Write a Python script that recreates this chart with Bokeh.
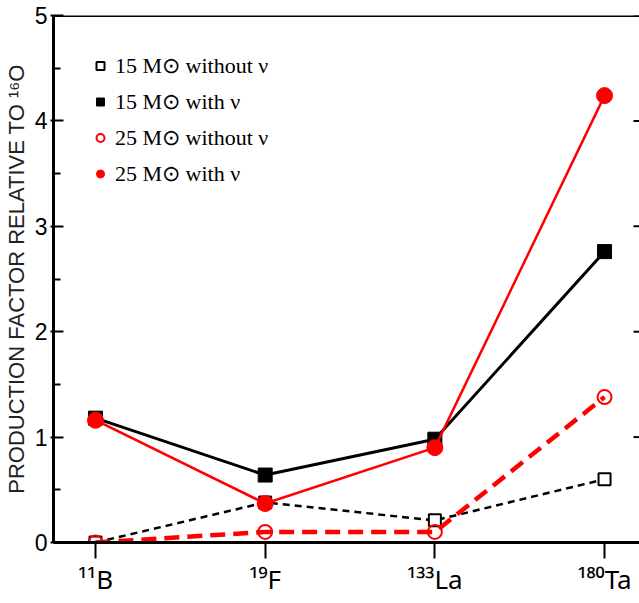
from bokeh.plotting import figure
from bokeh.models import (Range1d, FixedTicker, Legend, LegendItem, Span)
from bokeh.embed import file_html
from bokeh.resources import INLINE

# ---- data ----
isotopes = ["¹¹B", "¹⁹F", "¹³³La", "¹⁸⁰Ta"]
m15_without = [0.0, 0.38, 0.21, 0.60]
m15_with = [1.18, 0.64, 0.98, 2.76]
m25_without = [0.0, 0.10, 0.10, 1.38]
m25_with = [1.16, 0.37, 0.90, 4.24]
y_ticks = [0, 1, 2, 3, 4, 5]
series_labels = ["15 M⊙ without ν", "15 M⊙ with ν", "25 M⊙ without ν", "25 M⊙ with ν"]

x = list(range(1, len(isotopes) + 1))

p = figure(width=639, height=603, output_backend="svg", toolbar_location=None,
           x_range=Range1d(0.7525, 4.206), y_range=Range1d(0, 5),
           min_border_left=53, min_border_right=0, min_border_top=15, min_border_bottom=61)
p.outline_line_color = None
p.xgrid.visible = False
p.ygrid.visible = False
p.background_fill_color = "white"
p.border_fill_color = "white"

# x axis
xa = p.xaxis[0]
xa.ticker = FixedTicker(ticks=x)
xa.major_label_overrides = {i: lab for i, lab in zip(x, isotopes)}
xa.axis_line_width = 3
xa.major_tick_in = 0
xa.major_tick_out = 16
xa.major_tick_line_width = 2
xa.minor_tick_line_color = None
xa.major_label_text_font = "Noto Sans"
xa.major_label_text_font_size = "26px"
xa.major_label_text_color = "black"
xa.major_label_standoff = 2

# y axis
ya = p.yaxis[0]
ya.ticker = FixedTicker(ticks=y_ticks, minor_ticks=[0.5, 1.5, 2.5, 3.5, 4.5])
ya.axis_line_width = 3
ya.major_tick_in = 10
ya.major_tick_out = 3
ya.major_tick_line_width = 2
ya.minor_tick_in = 7
ya.minor_tick_out = 0
ya.minor_tick_line_width = 2
ya.minor_tick_line_color = "black"
ya.major_label_text_font = "Liberation Sans"
ya.major_label_text_font_size = "23px"
ya.major_label_text_color = "black"
ya.major_label_standoff = 3
ya.axis_label = "PRODUCTION FACTOR RELATIVE TO ¹⁶O"
ya.axis_label_text_font = "Liberation Sans"
ya.axis_label_text_font_size = "22px"
ya.axis_label_text_font_style = "normal"
ya.axis_label_text_color = "#222222"
ya.axis_label_standoff = 3

# top frame line and right-side inward ticks
p.add_layout(Span(location=p.y_range.end, dimension="width", line_color="black", line_width=3))
p.scatter([p.x_range.end] * len(y_ticks), y_ticks, marker="dash", size=12,
          line_color="black", line_width=2)

# series
p.line(x, m15_without, line_color="black", line_width=2.5, line_dash="7 5")
r1 = p.scatter(x, m15_without, marker="square", size=12, fill_color="white",
               line_color="black", line_width=2)
p.line(x, m15_with, line_color="black", line_width=3)
r2 = p.scatter(x, m15_with, marker="square", size=14, fill_color="black", line_color="black")
p.line(x, m25_without, line_color="#ff0000", line_width=4.5, line_dash="15 8")
r3 = p.scatter(x, m25_without, marker="circle", size=14, fill_color=None,
               line_color="#ff0000", line_width=2)
p.line(x, m25_with, line_color="#ff0000", line_width=2.5)
r4 = p.scatter(x, m25_with, marker="circle", size=16, fill_color="#ff0000", line_color="#ff0000")

legend = Legend(items=[LegendItem(label=l, renderers=[r]) for l, r in
                       zip(series_labels, [r1, r2, r3, r4])],
                location=(37, 352))
legend.border_line_color = None
legend.background_fill_alpha = 0
legend.padding = 0
legend.margin = 0
legend.spacing = 3
legend.glyph_width = 20
legend.glyph_height = 33
legend.label_height = 33
legend.label_standoff = 5
legend.label_text_font = "Liberation Serif"
legend.label_text_font_size = "22px"
legend.label_text_color = "black"
p.add_layout(legend)

open("out.html", "w").write(file_html(p, INLINE))
